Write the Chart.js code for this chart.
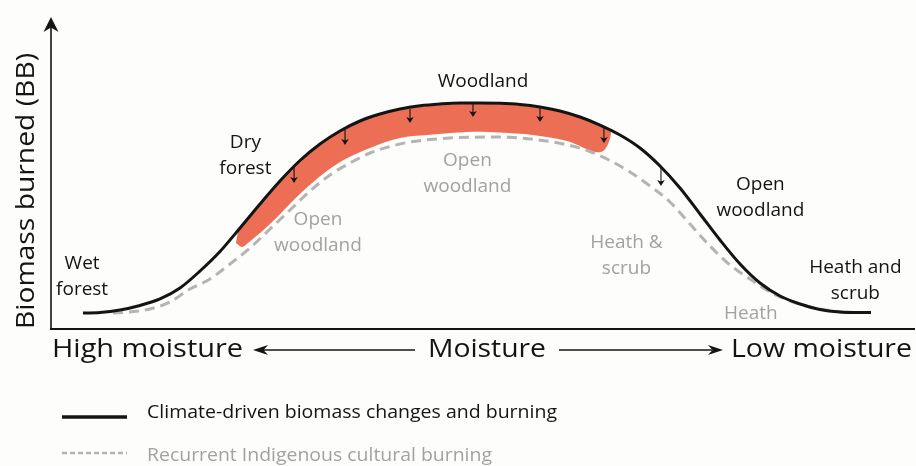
<!DOCTYPE html>
<html>
<head>
<meta charset="utf-8">
<script src="https://cdn.jsdelivr.net/npm/chart.js"></script>
<style>
  html, body { margin: 0; padding: 0; background: #fdfdfb; }
  #wrap { width: 916px; height: 466px; position: relative; }
</style>
</head>
<body>
<div id="wrap"><canvas id="c"></canvas></div>
<script>
// ---- Data (conceptual units: moisture gradient 0-100, biomass burned 0-100) ----
const climateX  = [3.70, 5.67, 7.99, 10.30, 12.62, 14.93, 17.25, 19.56, 21.88, 24.19, 26.50, 28.82, 31.13, 33.45, 35.76, 38.08, 40.39, 42.71, 45.02, 47.34, 49.65, 51.97, 54.28, 56.60, 58.91, 61.23, 63.54, 65.86, 68.17, 70.49, 72.80, 75.12, 77.43, 79.75, 82.06, 84.38, 86.69, 89.00, 91.32, 93.63, 94.91];
const climateBB = [5.14, 5.31, 6.11, 7.56, 9.65, 13.18, 18.65, 24.92, 32.48, 40.19, 47.59, 54.18, 59.49, 63.67, 66.88, 69.13, 70.74, 71.77, 72.35, 72.67, 72.67, 72.57, 72.19, 71.38, 70.10, 68.17, 65.59, 62.38, 58.20, 52.41, 45.34, 36.98, 28.62, 20.90, 14.79, 10.61, 8.04, 6.27, 5.47, 5.31, 5.31];

const cultureX  = [7.18, 9.14, 11.46, 13.77, 16.09, 18.40, 20.72, 23.03, 25.35, 27.66, 29.98, 32.29, 34.61, 36.92, 39.24, 41.55, 43.87, 46.18, 48.50, 50.81, 53.13, 55.44, 57.75, 60.07, 62.38, 64.70, 67.01, 69.33, 71.64, 73.96, 76.27, 78.59, 80.90, 83.22, 85.53, 87.85, 90.16, 92.25];
const cultureBB = [5.14, 5.47, 6.43, 8.68, 12.86, 16.08, 20.90, 26.05, 32.15, 38.26, 44.37, 49.52, 53.38, 56.59, 58.68, 60.13, 60.93, 61.41, 61.64, 61.74, 61.64, 61.09, 60.29, 59.00, 57.07, 54.18, 50.48, 45.98, 40.84, 33.76, 26.69, 20.58, 16.08, 11.90, 9.00, 7.07, 5.95, 5.14];

// reduction band: upper edge (left -> right), then lower edge (right -> left)
const bandUpperX  = [21.64, 24.19, 26.50, 28.82, 31.13, 33.45, 35.76, 38.08, 40.39, 42.71, 45.02, 47.34, 49.65, 51.97, 54.28, 56.60, 58.91, 61.23, 63.54, 64.81];
const bandUpperBB = [31.42, 39.87, 47.27, 53.86, 59.16, 63.34, 66.56, 68.81, 70.42, 71.45, 72.03, 72.35, 72.35, 72.25, 71.86, 71.06, 69.77, 67.85, 65.27, 63.50];
const bandLowerX  = [63.66, 59.72, 55.79, 51.97, 48.15, 44.21, 40.39, 36.92, 33.10, 29.17, 25.35, 22.80, 22.11, 21.41];
const bandLowerBB = [56.91, 60.45, 62.38, 63.18, 63.34, 62.54, 61.41, 58.20, 53.05, 44.37, 33.76, 27.65, 26.37, 27.65];

// downward arrows (reduction of biomass burned)
const arrowX    = [28.13, 34.03, 41.55, 48.84, 56.60, 64.00, 70.60];
const arrowFrom = [51.77, 63.99, 70.74, 72.35, 71.06, 64.63, 51.77];
const arrowTo   = [46.95, 59.16, 66.24, 68.17, 66.56, 59.81, 45.98];

// vegetation labels
const vegText  = [['Wet', 'forest'], ['Dry', 'forest'], ['Woodland'], ['Open', 'woodland'], ['Open', 'woodland'], ['Heath &', 'scrub'], ['Open', 'woodland'], ['Heath and', 'scrub'], ['Heath']];
const vegX     = [3.6, 22.5, 50.0, 30.9, 48.2, 66.6, 82.1, 93.1, 81.0];
const vegBB    = [20.9, 59.8, 79.7, 35.1, 54.3, 27.7, 46.3, 19.6, 5.1];
const vegGroup = ['climate', 'climate', 'climate', 'culture', 'culture', 'culture', 'climate', 'climate', 'culture'];

const yTitle = 'Biomass burned (BB)';
const moistureTitle = ['High moisture', 'Moisture', 'Low moisture'];
const seriesNames = ['Climate-driven biomass changes and burning', 'Recurrent Indigenous cultural burning'];

// ---- styles ----
const BLACK = '#141414';
const GREY = '#b4b4b4';
const GREY_TEXT = '#a2a2a2';
const ORANGE = '#ec6f55';
const FONT = '"Open Sans", "Noto Sans", sans-serif';

const toPts = (xs, ys) => xs.map((x, i) => ({ x: x, y: ys[i] }));

function fitText(ctx, text, x, y, size, width, align) {
  ctx.save();
  ctx.font = size + 'px ' + FONT;
  const w = ctx.measureText(text).width;
  const sx = width / w;
  ctx.textBaseline = 'middle';
  ctx.textAlign = 'left';
  let left = x;
  if (align === 'center') left = x - width / 2;
  ctx.translate(left, y);
  ctx.scale(sx, 1);
  ctx.fillText(text, 0, 0);
  ctx.restore();
}

function arrowHead(ctx, tx, ty, dir, len, half) {
  ctx.beginPath();
  if (dir === 'left') { ctx.moveTo(tx, ty); ctx.lineTo(tx + len, ty - half); ctx.lineTo(tx + len * 0.7, ty); ctx.lineTo(tx + len, ty + half); }
  if (dir === 'right') { ctx.moveTo(tx, ty); ctx.lineTo(tx - len, ty - half); ctx.lineTo(tx - len * 0.7, ty); ctx.lineTo(tx - len, ty + half); }
  if (dir === 'up') { ctx.moveTo(tx, ty); ctx.lineTo(tx - half, ty + len); ctx.lineTo(tx, ty + len * 0.7); ctx.lineTo(tx + half, ty + len); }
  if (dir === 'down') { ctx.moveTo(tx, ty); ctx.lineTo(tx - half, ty - len); ctx.lineTo(tx, ty - len * 0.75); ctx.lineTo(tx + half, ty - len); }
  ctx.closePath();
  ctx.fill();
}

const decor = {
  id: 'decor',
  beforeDraw(chart) {
    const ctx = chart.ctx;
    ctx.save();
    ctx.fillStyle = '#fdfdfb';
    ctx.fillRect(0, 0, chart.width, chart.height);
    ctx.restore();
  },
  afterDatasetsDraw(chart) {
    const ctx = chart.ctx;
    const a = chart.chartArea;
    const xs = chart.scales.x, ys = chart.scales.y;
    ctx.save();
    // axes
    ctx.strokeStyle = BLACK; ctx.fillStyle = BLACK;
    ctx.lineWidth = 1.6;
    ctx.beginPath(); ctx.moveTo(a.left, a.bottom + 1); ctx.lineTo(a.left, a.top + 8); ctx.stroke();
    arrowHead(ctx, a.left, a.top - 1, 'up', 15, 7.5);
    ctx.lineWidth = 2;
    ctx.beginPath(); ctx.moveTo(a.left - 1, a.bottom); ctx.lineTo(a.right, a.bottom); ctx.stroke();

    // reduction arrows
    ctx.lineWidth = 1.1;
    arrowX.forEach((x, i) => {
      const px = xs.getPixelForValue(x);
      const p0 = ys.getPixelForValue(arrowFrom[i]);
      const p1 = ys.getPixelForValue(arrowTo[i]);
      ctx.beginPath(); ctx.moveTo(px, p0); ctx.lineTo(px, p1 - 3); ctx.stroke();
      arrowHead(ctx, px, p1, 'down', 6, 3.8);
    });

    // vegetation labels
    ctx.textAlign = 'center'; ctx.textBaseline = 'middle';
    ctx.font = '19px ' + FONT;
    vegText.forEach((lines, i) => {
      ctx.fillStyle = vegGroup[i] === 'climate' ? BLACK : GREY_TEXT;
      const px = xs.getPixelForValue(vegX[i]);
      const py = ys.getPixelForValue(vegBB[i]);
      lines.forEach((t, j) => ctx.fillText(t, px, py + j * 26));
    });

    // y title
    ctx.save();
    ctx.fillStyle = BLACK;
    ctx.translate(27, 191);
    ctx.rotate(-Math.PI / 2);
    fitText(ctx, yTitle, 0, 0, 25, 276, 'center');
    ctx.restore();

    // moisture title with arrows
    ctx.fillStyle = BLACK;
    const ty = a.bottom + 21;
    fitText(ctx, moistureTitle[0], 52, ty, 26, 191, 'left');
    fitText(ctx, moistureTitle[1], 428, ty, 26, 118, 'left');
    fitText(ctx, moistureTitle[2], 731, ty, 26, 181, 'left');
    ctx.lineWidth = 1.5;
    ctx.beginPath(); ctx.moveTo(262, ty); ctx.lineTo(415, ty); ctx.stroke();
    arrowHead(ctx, 253, ty, 'left', 15, 5);
    ctx.beginPath(); ctx.moveTo(559, ty); ctx.lineTo(712, ty); ctx.stroke();
    arrowHead(ctx, 723, ty, 'right', 15, 5);

    // legend
    const d0 = chart.data.datasets[0], d1 = chart.data.datasets[1];
    ctx.strokeStyle = d0.borderColor; ctx.lineWidth = 3.5; ctx.setLineDash([]);
    ctx.beginPath(); ctx.moveTo(62, 417); ctx.lineTo(127, 417); ctx.stroke();
    ctx.fillStyle = BLACK;
    fitText(ctx, d0.label, 147, 413, 18, 410, 'left');
    ctx.strokeStyle = d1.borderColor; ctx.lineWidth = 2.5; ctx.setLineDash([5, 3]);
    ctx.beginPath(); ctx.moveTo(62, 453); ctx.lineTo(127, 453); ctx.stroke();
    ctx.setLineDash([]);
    ctx.fillStyle = GREY_TEXT;
    fitText(ctx, d1.label, 147, 456, 18, 345, 'left');
    ctx.restore();
  }
};

new Chart(document.getElementById('c'), {
  type: 'line',
  data: {
    datasets: [
      {
        label: seriesNames[0],
        data: toPts(climateX, climateBB),
        borderColor: BLACK, borderWidth: 3, pointRadius: 0,
        cubicInterpolationMode: 'monotone', fill: false, order: 0
      },
      {
        label: seriesNames[1],
        data: toPts(cultureX, cultureBB),
        borderColor: GREY, borderWidth: 3, borderDash: [10, 6], pointRadius: 0,
        cubicInterpolationMode: 'monotone', fill: false, order: 1
      },
      {
        label: 'Reduction',
        data: toPts(bandUpperX.concat(bandLowerX), bandUpperBB.concat(bandLowerBB)),
        borderWidth: 0, borderColor: ORANGE, backgroundColor: ORANGE, pointRadius: 0,
        tension: 0.35, fill: 'shape', order: 2
      }
    ]
  },
  options: {
    responsive: true, maintainAspectRatio: false, animation: false,
    layout: { padding: { left: 51, top: 18, right: 1, bottom: 137 } },
    scales: {
      x: { type: 'linear', min: 0, max: 100, display: false },
      y: { type: 'linear', min: 0, max: 100, display: false }
    },
    plugins: { legend: { display: false }, tooltip: { enabled: false } },
    events: []
  },
  plugins: [decor]
});
</script>
</body>
</html>
